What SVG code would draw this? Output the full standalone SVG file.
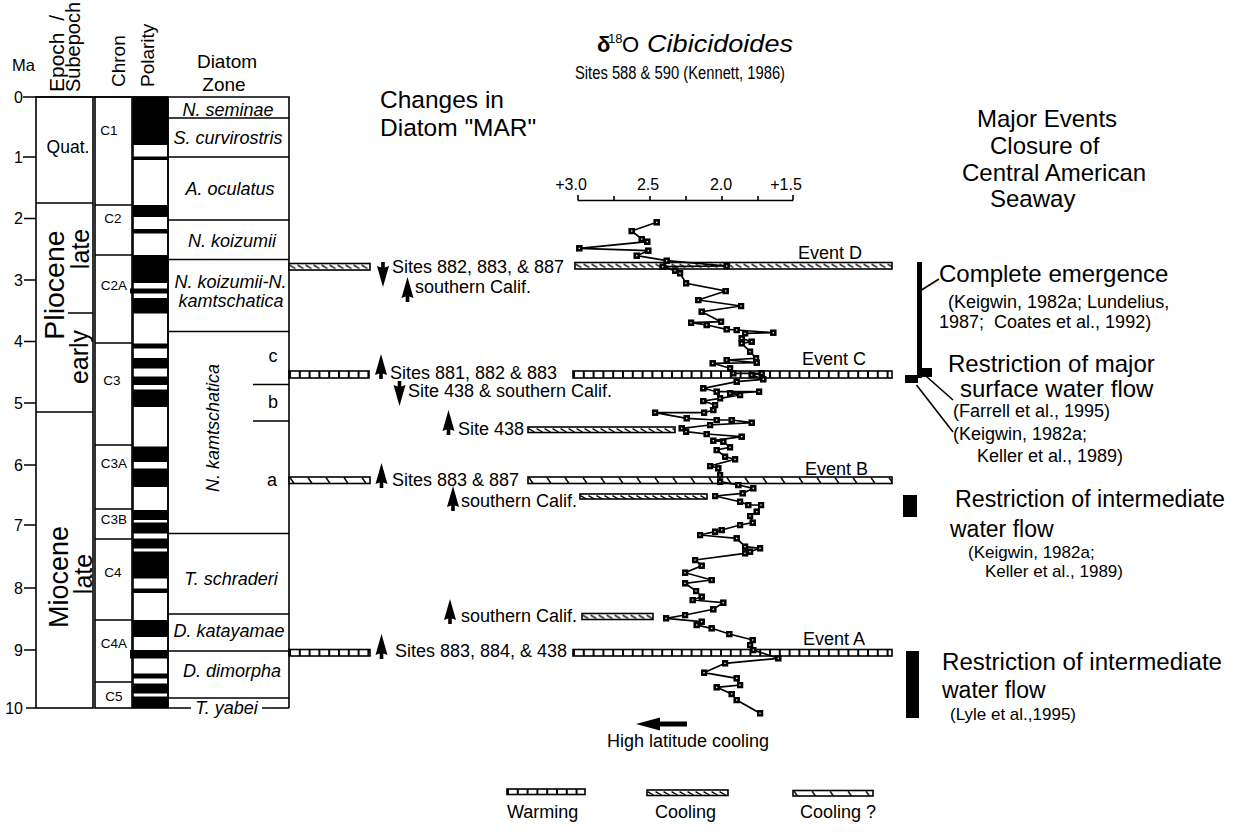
<svg xmlns="http://www.w3.org/2000/svg" width="1243" height="832" viewBox="0 0 1243 832">
<style>
.t{font-family:'Liberation Sans',Arial,Helvetica,sans-serif;fill:#000}
.i{font-style:italic}
.ln{stroke:#000;stroke-width:1.6;fill:none}
.bar{stroke:#000;stroke-width:1.6}
.blk{fill:#000}
.curve{stroke:#000;stroke-width:1.7;fill:none;marker-start:url(#sq);marker-mid:url(#sq);marker-end:url(#sq)}
</style>
<defs>
<pattern id="pW" patternUnits="userSpaceOnUse" width="9.8" height="20"><rect width="9.8" height="20" fill="#fff"/><rect width="2" height="20" fill="#000"/></pattern>
<pattern id="pC" patternUnits="userSpaceOnUse" width="8" height="8"><rect width="8" height="8" fill="#fff"/><path d="M0.5,1.6 L6.5,5" stroke="#000" stroke-width="1.4"/></pattern>
<pattern id="pQ" patternUnits="userSpaceOnUse" width="18" height="8"><rect width="18" height="8" fill="#fff"/><path d="M1,0.5 L5,6.5" stroke="#000" stroke-width="1.4"/></pattern>
<marker id="sq" markerUnits="userSpaceOnUse" markerWidth="7" markerHeight="7" refX="3.25" refY="3.25" orient="0"><rect width="6.5" height="6.5" fill="#000"/><rect x="2.6" y="2.6" width="1.3" height="1.3" fill="#fff"/></marker>
<path id="up" d="M0,0 L6,21 L1.8,19.5 L1.8,25 L-1.8,25 L-1.8,19.5 L-6,21 Z"/>
</defs>
<rect width="1243" height="832" fill="#fff"/>

<!-- Age axis -->
<g id="age-axis">
<text class="t" x="12" y="70.5" font-size="16.5">Ma</text>
<g class="t" font-size="16" text-anchor="end">
<text x="23" y="103">0</text><text x="23" y="163">1</text><text x="23" y="224">2</text><text x="23" y="286">3</text><text x="23" y="347">4</text><text x="23" y="409">5</text><text x="23" y="471">6</text><text x="23" y="531">7</text><text x="23" y="594">8</text><text x="23" y="656">9</text><text x="23" y="714">10</text>
</g>
<path class="ln" d="M23,97H36M23,157H36M24,218.5H36M24,280H36M24,341.5H36M24,403H36M24,465H36M24,525H36M24,588H36M24,650H36M26,708H36"/>
</g>

<!-- Epoch column -->
<g id="epoch">
<text class="t" font-size="21" transform="translate(63.5,92) rotate(-90)" xml:space="preserve">Epoch  /</text>
<text class="t" font-size="20" transform="translate(79.5,92) rotate(-90)">Subepoch</text>
<rect class="ln" x="36" y="97" width="57" height="611"/>
<path class="ln" d="M36,203H93M36,412H93M68,313H93"/>
<text class="t" x="68" y="153" font-size="17.5" text-anchor="middle">Quat.</text>
<text class="t" font-size="28.5" text-anchor="middle" transform="translate(64,285) rotate(-90)">Pliocene</text>
<text class="t" font-size="25" text-anchor="middle" transform="translate(89,249) rotate(-90)">late</text>
<text class="t" font-size="25" text-anchor="middle" transform="translate(88,357) rotate(-90)">early</text>
<text class="t" font-size="27" text-anchor="middle" transform="translate(68,577) rotate(-90)">Miocene</text>
<text class="t" font-size="25" text-anchor="middle" transform="translate(92,574) rotate(-90)">late</text>
</g>

<!-- Chron column -->
<g id="chron">
<text class="t" font-size="19" transform="translate(125,87) rotate(-90)">Chron</text>
<rect class="ln" x="95" y="97" width="37" height="611"/>
<path class="ln" d="M95,205H132M95,255H132M95,343H132M95,445H132M95,509H132M95,539H132M95,620H132M95,682H132"/>
<g class="t" font-size="13.5" text-anchor="middle">
<text x="109" y="135">C1</text><text x="113" y="223">C2</text><text x="114" y="290">C2A</text><text x="112" y="385">C3</text><text x="114" y="468">C3A</text><text x="114" y="524">C3B</text><text x="113" y="577">C4</text><text x="114" y="648">C4A</text><text x="114" y="701">C5</text>
</g>
</g>

<!-- Polarity column -->
<g id="polarity">
<text class="t" font-size="19" transform="translate(154,87) rotate(-90)">Polarity</text>
<rect class="ln" x="133" y="97" width="35" height="611"/>
<g class="blk">
<rect x="133" y="97" width="35" height="48"/>
<rect x="133" y="156.5" width="35" height="3.5"/>
<rect x="133" y="205" width="35" height="12"/>
<rect x="133" y="229" width="35" height="4.5"/>
<rect x="133" y="255" width="35" height="28"/>
<rect x="130" y="288.5" width="38" height="5"/>
<rect x="133" y="298" width="35" height="15.5"/>
<rect x="133" y="343.5" width="35" height="5"/>
<rect x="133" y="358" width="35" height="10.5"/>
<rect x="133" y="376.5" width="35" height="8.5"/>
<rect x="133" y="389.5" width="35" height="17.5"/>
<rect x="133" y="446.5" width="35" height="15.5"/>
<rect x="133" y="468.5" width="35" height="18.5"/>
<rect x="133" y="510" width="35" height="10"/>
<rect x="133" y="522.5" width="35" height="11"/>
<rect x="133" y="538.5" width="35" height="10"/>
<rect x="133" y="551.5" width="35" height="27"/>
<rect x="133" y="588.5" width="35" height="4.5"/>
<rect x="133" y="620" width="35" height="17"/>
<rect x="130" y="650" width="38" height="8.5"/>
<rect x="133" y="673.5" width="35" height="5"/>
<rect x="133" y="683.5" width="35" height="10"/>
<rect x="133" y="696.5" width="35" height="11.5"/>
</g>
</g>

<!-- Diatom zone column -->
<g id="diatom-zone">
<text class="t" x="227" y="68" font-size="19" text-anchor="middle">Diatom</text>
<text class="t" x="224" y="91" font-size="19" text-anchor="middle">Zone</text>
<path class="ln" d="M36,97H289V708M168,97V708M168,708H191M262,708H289"/>
<path class="ln" d="M168,118H289M168,157H289M168,220H289M168,259.5H289M168,331.5H289M168,533.5H289M168,614H289M168,651H289M168,698H289M253,384.5H289M253,421H289"/>
<g class="t i" font-size="18" text-anchor="middle">
<text x="228" y="115.5">N. seminae</text>
<text x="228" y="144">S. curvirostris</text>
<text x="230" y="195">A. oculatus</text>
<text x="232" y="246.5">N. koizumii</text>
<text x="230.5" y="288">N. koizumii-N.</text>
<text x="231" y="306.5">kamtschatica</text>
<text x="231" y="585">T. schraderi</text>
<text x="229" y="637">D. katayamae</text>
<text x="232" y="676.5">D. dimorpha</text>
<text x="226.5" y="713.5">T. yabei</text>
<text x="0" y="0" transform="translate(219,428) rotate(-90)">N. kamtschatica</text>
</g>
<g class="t" font-size="18" text-anchor="middle">
<text x="273" y="362">c</text><text x="273" y="408">b</text><text x="272" y="486">a</text>
</g>
</g>

<!-- Headings -->
<g id="heading-mar">
<text class="t" x="380" y="108" font-size="24.5">Changes in</text>
<text class="t" x="380" y="136" font-size="24.5">Diatom "MAR"</text>
</g>
<g id="heading-isotope">
<text class="t" x="597" y="52" font-size="22" font-weight="bold">δ</text>
<text class="t" x="608" y="43" font-size="13">18</text>
<text class="t" x="622" y="52" font-size="22">O</text>
<text class="t i" x="647" y="52" font-size="24" textLength="146" lengthAdjust="spacingAndGlyphs">Cibicidoides</text>
<text class="t" x="575" y="79" font-size="17.5" textLength="210" lengthAdjust="spacingAndGlyphs">Sites 588 &amp; 590 (Kennett, 1986)</text>
</g>

<!-- Isotope axis -->
<g id="isotope-axis">
<path class="ln" d="M578,200.5H793M578,195V200.5M614,196V200.5M650,196V200.5M686,196V200.5M722,196V200.5M758,196V200.5M793,195V200.5"/>
<g class="t" font-size="16" text-anchor="middle">
<text x="571" y="190">+3.0</text><text x="648" y="190">2.5</text><text x="721" y="190">2.0</text><text x="786" y="190">+1.5</text>
</g>
</g>

<!-- Event bars -->
<g id="event-D">
<rect class="bar" x="0" y="0" width="81" height="6.5" fill="url(#pC)" transform="translate(289,263.5)"/>
<rect class="bar" x="0" y="0" width="317" height="6.5" fill="url(#pC)" transform="translate(575,262.5)"/>
<text class="t" x="798" y="259" font-size="18">Event D</text>
</g>
<g id="event-C">
<rect class="bar" x="0" y="0" width="80" height="7" fill="url(#pW)" transform="translate(289,371)"/>
<rect class="bar" x="0" y="0" width="319" height="7" fill="url(#pW)" transform="translate(573,371)"/>
<text class="t" x="802" y="365" font-size="18">Event C</text>
</g>
<g id="bar-site438">
<rect class="bar" x="0" y="0" width="147" height="5.5" fill="url(#pC)" transform="translate(528,427)"/>
</g>
<g id="event-B">
<rect class="bar" x="0" y="0" width="81" height="6.5" fill="url(#pQ)" transform="translate(289,477)"/>
<rect class="bar" x="0" y="0" width="364" height="6.5" fill="url(#pQ)" transform="translate(528,477)"/>
<text class="t" x="805" y="475" font-size="18">Event B</text>
</g>
<g id="bar-calif-B">
<rect class="bar" x="0" y="0" width="127" height="5" fill="url(#pC)" transform="translate(580,494)"/>
</g>
<g id="bar-calif-85">
<rect class="bar" x="0" y="0" width="71" height="6" fill="url(#pC)" transform="translate(582,613.5)"/>
</g>
<g id="event-A">
<rect class="bar" x="0" y="0" width="81" height="6.5" fill="url(#pW)" transform="translate(289,649.5)"/>
<rect class="bar" x="0" y="0" width="319" height="6.5" fill="url(#pW)" transform="translate(573,649.5)"/>
<text class="t" x="803" y="645" font-size="18">Event A</text>
</g>

<!-- Diatom MAR changes -->
<g id="mar-changes">
<use href="#up" transform="translate(383,287) scale(1,-1)"/>
<text class="t" x="392" y="273" font-size="18">Sites 882, 883, &amp; 887</text>
<use href="#up" transform="translate(407.5,277)"/>
<text class="t" x="415" y="293" font-size="18">southern Calif.</text>
<use href="#up" transform="translate(381,354)"/>
<text class="t" x="390" y="378.5" font-size="18">Sites 881, 882 &amp; 883</text>
<use href="#up" transform="translate(399.5,406) scale(1,-1)"/>
<text class="t" x="408" y="397" font-size="18">Site 438 &amp; southern Calif.</text>
<use href="#up" transform="translate(448.5,410)"/>
<text class="t" x="458" y="435" font-size="18">Site 438</text>
<use href="#up" transform="translate(381.5,463)"/>
<text class="t" x="392" y="486" font-size="18">Sites 883 &amp; 887</text>
<use href="#up" transform="translate(453,486)"/>
<text class="t" x="461" y="507" font-size="18">southern Calif.</text>
<use href="#up" transform="translate(450,599)"/>
<text class="t" x="461" y="622" font-size="18">southern Calif.</text>
<use href="#up" transform="translate(381.5,634)"/>
<text class="t" x="395" y="657" font-size="18">Sites 883, 884, &amp; 438</text>
</g>

<!-- Isotope curve -->
<g id="isotope-curve">
<polyline class="curve" points="656.7,222.3 631.7,231 641.7,239 647.3,241.7 579.3,248.3 648.3,250.7 636.7,255.7 666.7,260.7 726.7,266 662.7,266.7 675,270.7 680,273.3 686,283.3 725.7,291 698.3,300 741,306 701.7,311.7 721,321.7 691,322.7 706.7,325 726.7,329.3 736.7,330 773.3,332.7 745,333.3 741.7,338.3 751.7,341.7 741.7,343.3 750,351.7 756,358.3 726.7,360 756.7,362.7 712.7,363.3 730,368.3 733.3,373.3 761.7,373.3 751.7,375 763.3,379.3 736.7,381.7 703.3,388.3 716.7,391.7 759,391.7 730,393.3 740,395 720,398.3 703.3,401 715,405 713.3,410 704,412.7 655,412.7 686.7,418.3 716.7,420 731.7,420 751.7,422.7 710,425 681.7,428.3 686,431.7 706.7,434 741.7,436.7 713.3,440.7 723.3,441.7 730,447.3 716.7,450 725,456.7 735,459.3 710,466 718.3,468.3 720,475 720,481.7 738.3,485 753.3,488.3 742.7,493.3 715,496 740,501.7 748.3,505 761,505 756.7,511.7 750,516 752.7,522.7 740,525 721.7,530 715,531.7 700,535 736.7,538.3 745,546.7 760,548.3 750,551.7 745,553.3 695,560 701.7,565.7 685,572.7 711.7,580 685,583.3 696,591 701.7,596.7 692.7,600 723.3,602.7 713.3,609.3 685,615 666,618.3 701.7,621.7 696.7,625 711.7,628.3 729.3,634 752.7,640 750,645 753.3,650 778.3,658.3 725,663.3 704,672.7 736.7,678.3 740,685 716.7,687.3 731.7,694 736.7,700 760,713.3"/>
</g>

<g id="cooling-arrow">
<path class="blk" d="M636,724 L660,717.5 L660,721.5 L687,721.5 L687,726.5 L660,726.5 L660,730.5 Z"/>
<text class="t" x="607" y="747" font-size="18">High latitude cooling</text>
</g>

<!-- Major events -->
<g id="heading-events" class="t" font-size="24">
<text x="977" y="127">Major Events</text>
<text x="990" y="154">Closure of</text>
<text x="962" y="181">Central American</text>
<text x="990" y="207">Seaway</text>
</g>
<g id="event-complete-emergence">
<rect class="blk" x="917" y="262" width="5" height="116"/>
<path class="ln" d="M921.5,290 L939,279"/>
<text class="t" x="939" y="282" font-size="24">Complete emergence</text>
<text class="t" x="948" y="308" font-size="18">(Keigwin, 1982a; Lundelius,</text>
<text class="t" x="939" y="328" font-size="18" xml:space="preserve">1987;  Coates et al., 1992)</text>
</g>
<g id="event-surface-flow">
<rect class="blk" x="920" y="368" width="12" height="9"/>
<rect class="blk" x="905" y="375" width="13" height="8"/>
<path class="ln" d="M926.5,376.5 L953,400M916.5,385 L953,432"/>
<text class="t" x="948" y="372" font-size="24">Restriction of major</text>
<text class="t" x="960" y="397" font-size="24">surface water flow</text>
<text class="t" x="953" y="417" font-size="18">(Farrell et al., 1995)</text>
<text class="t" x="953" y="440" font-size="18">(Keigwin, 1982a;</text>
<text class="t" x="977" y="462" font-size="18">Keller et al., 1989)</text>
</g>
<g id="event-intermediate-1">
<rect class="blk" x="903" y="495" width="14" height="22"/>
<text class="t" x="955" y="507" font-size="23" textLength="270" lengthAdjust="spacingAndGlyphs">Restriction of intermediate</text>
<text class="t" x="950" y="537" font-size="23">water flow</text>
<text class="t" x="968" y="558" font-size="17">(Keigwin, 1982a;</text>
<text class="t" x="985" y="577" font-size="17">Keller et al., 1989)</text>
</g>
<g id="event-intermediate-2">
<rect class="blk" x="906" y="651" width="13" height="67"/>
<text class="t" x="942" y="670" font-size="23" textLength="280" lengthAdjust="spacingAndGlyphs">Restriction of intermediate</text>
<text class="t" x="942" y="698" font-size="23">water flow</text>
<text class="t" x="950" y="720" font-size="17">(Lyle et al.,1995)</text>
</g>

<!-- Legend -->
<g id="legend">
<rect class="bar" x="0" y="0" width="78" height="5.5" fill="url(#pW)" transform="translate(507,789)"/>
<text class="t" x="507" y="818" font-size="18">Warming</text>
<rect class="bar" x="0" y="0" width="81" height="5.5" fill="url(#pC)" transform="translate(647,790)"/>
<text class="t" x="655" y="818" font-size="18">Cooling</text>
<rect class="bar" x="0" y="0" width="80" height="5.5" fill="url(#pQ)" transform="translate(793,790.5)"/>
<text class="t" x="800" y="818" font-size="18">Cooling ?</text>
</g>
</svg>
